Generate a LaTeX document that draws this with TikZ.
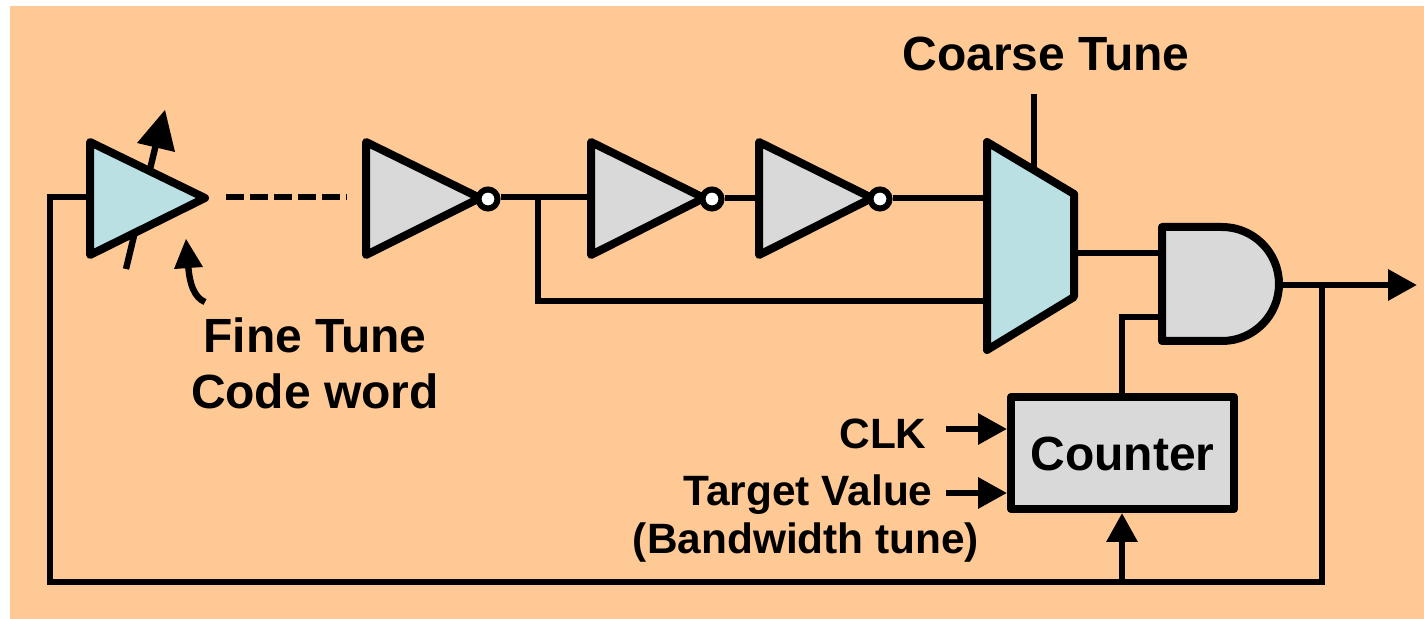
\documentclass[tikz,border=0pt]{standalone}
\usepackage{fontspec}
\setmainfont{Liberation Sans}
\usetikzlibrary{arrows.meta}
\definecolor{bgc}{HTML}{FFC996}
\definecolor{bluec}{HTML}{BAE0E4}
\definecolor{greyc}{HTML}{D9D9D9}
\tikzset{
  wire/.style={line width=3.2pt,line cap=butt,line join=miter},
  arrowwire/.style={wire,-{Triangle[length=14.5pt,width=15pt,sep=0pt]}},
  outline/.style={line width=4pt,line join=round,draw=black},
  bluefill/.style={outline,fill=bluec},
  greyfill/.style={outline,fill=greyc},
  bubble/.style={circle,draw=black,fill=white,line width=3pt,minimum size=9.5pt,inner sep=0pt},
  lab/.style={font=\fontsize{24}{24}\selectfont\bfseries,inner sep=0pt,align=center,text=black},
  labsmall/.style={font=\fontsize{21.2}{21.2}\selectfont\bfseries,inner sep=0pt,align=center,text=black},
}
\begin{document}
\begin{tikzpicture}[x=0.5pt,y=-0.5pt]
\useasboundingbox (0,0) rectangle (1424,619);
\fill[bgc] (10,6) rectangle (1424,619);
% coordinates
\coordinate (a1in) at (90,197);
\coordinate (c1) at (50,197);
\coordinate (c2) at (50,582);
\coordinate (c3) at (1322,582);
\coordinate (c4) at (1322,285);
\coordinate (cntbot) at (1122,582);
\coordinate (d1) at (226,197);
\coordinate (d2) at (347,197);
\coordinate (i3l) at (591,197);
\coordinate (i4l) at (759,198);
\coordinate (muxa) at (987,198);
\coordinate (muxb) at (987,301);
\coordinate (fb) at (538,197);
\coordinate (fb2) at (538,301);
\coordinate (muxout) at (1074,253);
\coordinate (anda) at (1162,253);
\coordinate (andb) at (1162,317);
\coordinate (andc) at (1122,317);
\coordinate (andout) at (1277,285);
\coordinate (outtip) at (1417,285);
\coordinate (ct1) at (1034,94);
\coordinate (ct2) at (1034,172);
\coordinate (ck) at (946,429);
\coordinate (tv) at (946,493);
% arrow through amplifier
\coordinate (va) at (126,269);
\coordinate (vb) at (158,136);
\draw[line width=3.2pt] (va) -- (vb);
\fill (165,110) -- (137,143) -- (175,152) -- cycle;
% wires
\draw[wire] (a1in) -- (c1) -- (c2) -- (c3) -- (c4);
\draw[wire] (fb) -- (fb2) -- (muxb);
\draw[wire,dash pattern=on 9pt off 3pt] (d1) -- (d2);
% shapes
\draw[bluefill] (90,142) -- (205,198) -- (90,255) -- cycle;
\draw[greyfill] (366,142) -- (480,198) -- (366,255) -- cycle;
\node[bubble] (b2) at (488,199) {};
\draw[greyfill] (591,142) -- (704,198) -- (591,255) -- cycle;
\node[bubble] (b3) at (712,199) {};
\draw[greyfill] (759,142) -- (872,198) -- (759,255) -- cycle;
\node[bubble] (b4) at (880,199) {};
\draw[bluefill] (987,142) -- (1074,194) -- (1074,297) -- (987,350) -- cycle;
\draw[greyfill] (1162,227) -- (1222,227) arc[start angle=90,end angle=-90,radius=28.5pt] -- (1162,341) -- cycle;
\node[greyfill,rectangle,minimum width=111.5pt,minimum height=56pt,inner sep=0pt,anchor=center,lab] (cnt) at (1122.5,453) {\smash{\raisebox{-9pt}{Counter}}};
% connectors
\draw[wire] (b2.east |- i3l) -- (i3l);
\draw[wire] (b3.east |- i4l) -- (i4l);
\draw[wire] (b4.east |- muxa) -- (muxa);
\draw[wire] (muxout) -- (anda);
\draw[wire] (andb) -- (andc) -- (cnt.north -| andc);
\draw[wire] (ct1) -- (ct2);
\draw[arrowwire] (andout) -- (outtip);
\draw[arrowwire] (ck) -- (cnt.west |- ck);
\draw[arrowwire] (tv) -- (cnt.west |- tv);
\draw[arrowwire] (cntbot) -- (cnt.south -| cntbot);
% curved arrow
\coordinate (fta) at (205,302);
\draw[line width=3.2pt] (fta) .. controls (195,298) and (189,285) .. (188,262);
\fill (186,239) -- (174,269) -- (203,267) -- cycle;
% labels
\node[lab] (coarse) at (1046,54) {Coarse Tune};
\node[lab] (fine) at (315,335) {Fine Tune};
\node[lab] (code) at (315,391) {Code word};
\node[labsmall] (clk) at (883,434) {CLK};
\node[labsmall] (target) at (808,495) {Target Value};
\node[labsmall] (bw) at (806,543) {(Bandwidth tune)};
\end{tikzpicture}
\end{document}
